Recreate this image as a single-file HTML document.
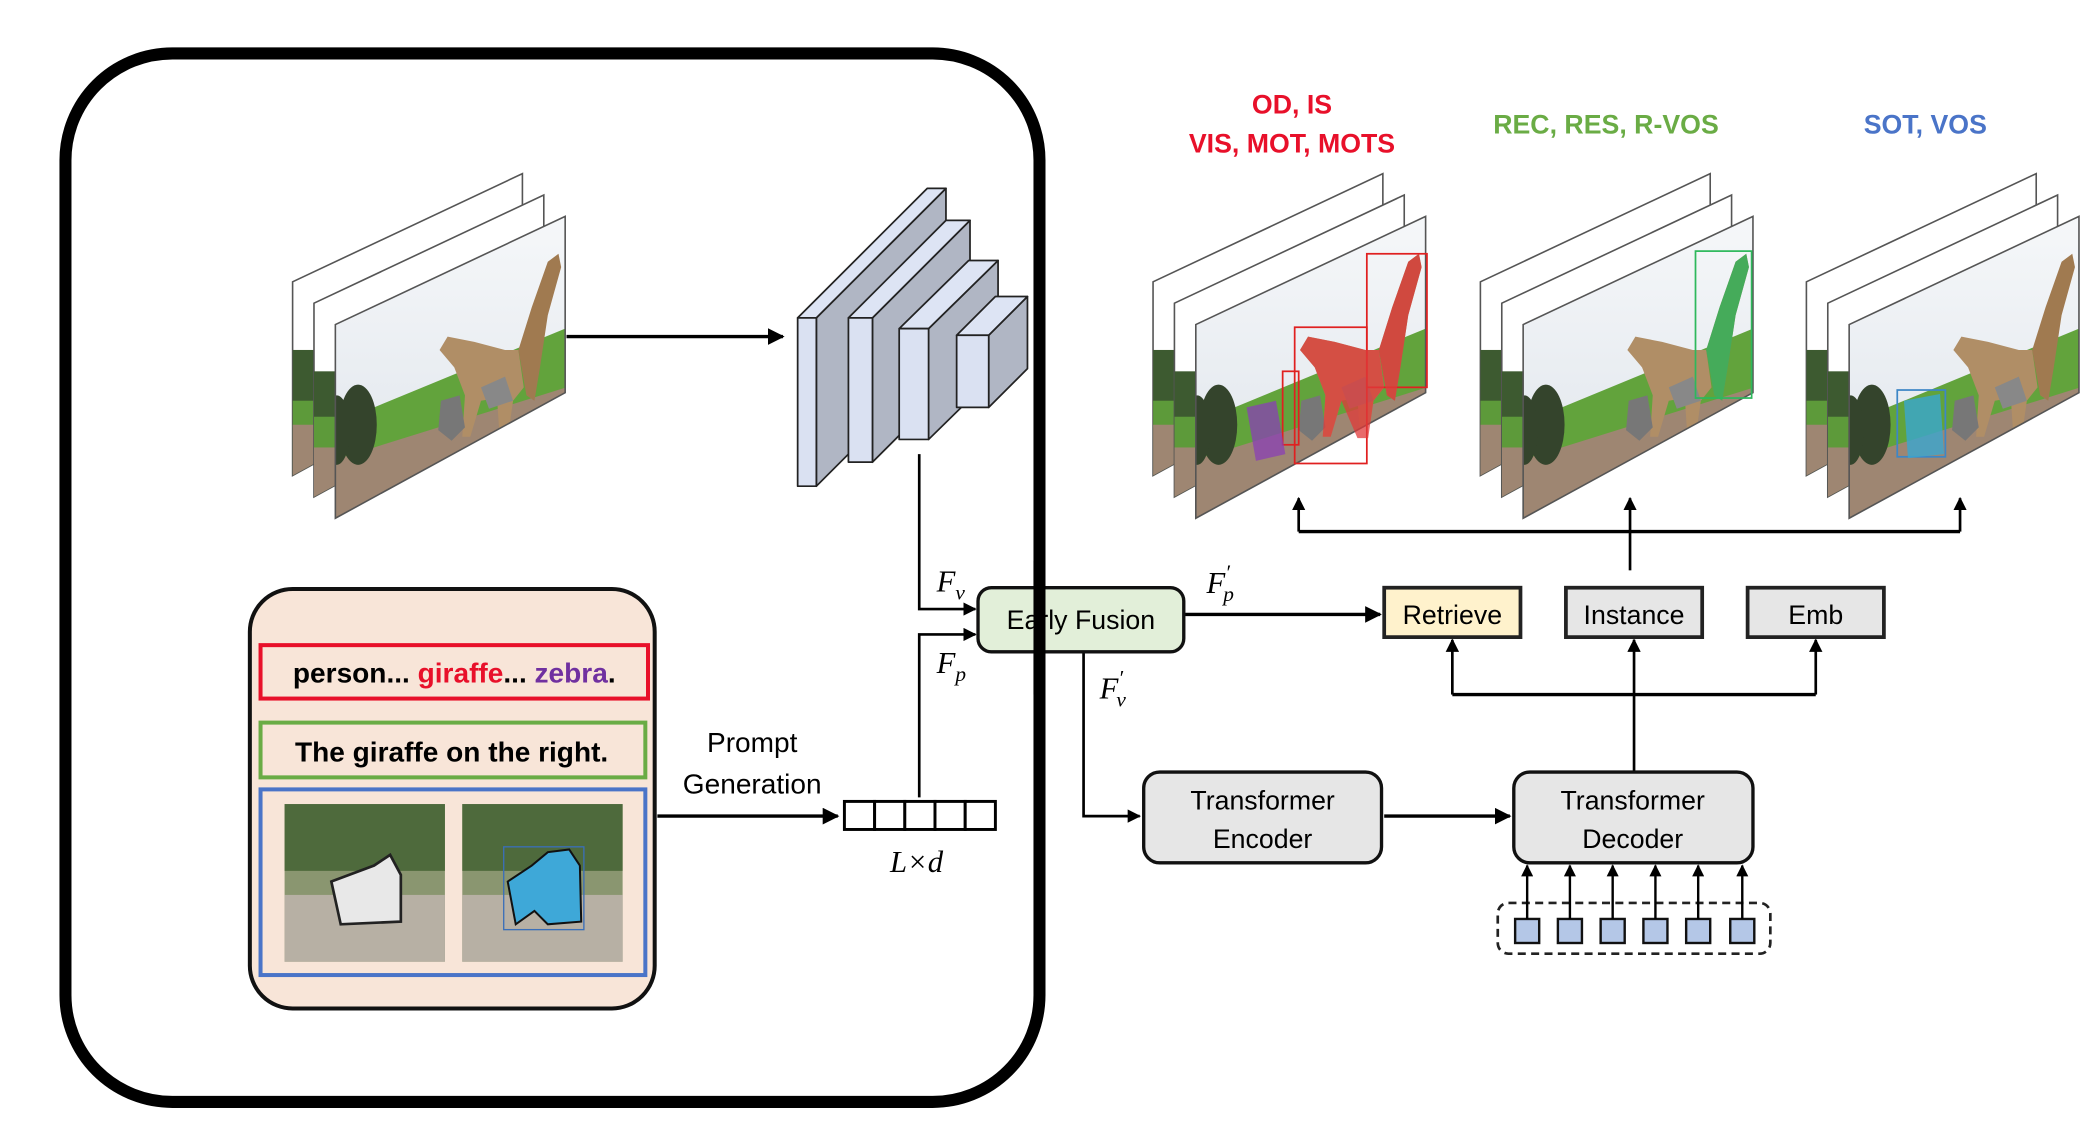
<!DOCTYPE html>
<html><head><meta charset="utf-8"><style>
html,body{margin:0;padding:0;background:#fff}
svg{display:block}
text{font-family:"Liberation Sans",sans-serif}
.m{font-family:"Liberation Serif",serif;font-style:italic}
</style></head><body>
<svg width="2095" height="1134" viewBox="0 0 1568 849" preserveAspectRatio="none" xmlns="http://www.w3.org/2000/svg">
<defs>
<marker id="a" viewBox="0 0 10 10" refX="9" refY="5" markerWidth="5" markerHeight="5" orient="auto"><path d="M0,0L10,5L0,10z" fill="#000"/></marker>
<clipPath id="cf"><polygon points="251,243 423,162 423,294 251,388"/></clipPath>
<clipPath id="cm"><polygon points="235,227 407,146 407,278 235,372"/></clipPath>
<clipPath id="cb"><polygon points="219,211 391,130 391,262 219,356"/></clipPath>
<linearGradient id="sky" x1="0" y1="0" x2="0" y2="1"><stop offset="0" stop-color="#fafbfc"/><stop offset="1" stop-color="#dde3ea"/></linearGradient>
<g id="scene">
<rect x="200" y="120" width="240" height="280" fill="url(#sky)"/>
<polygon points="200,338 440,239 440,420 200,420" fill="#62a33c"/>
<polygon points="200,360 440,285 440,420 200,420" fill="#9e8672"/>
<ellipse cx="268" cy="318" rx="14" ry="30" fill="#34442c"/>
<ellipse cx="252" cy="322" rx="10" ry="26" fill="#34442c"/>
<path d="M329,262 L335,252 L355,256 L378,262 L388,262 L392,290 L384,300 L380,328 L374,328 L372,298 L360,300 L352,327 L346,327 L348,296 L340,275 Z" fill="#b08e66"/>
<path d="M388,262 L398,230 L410,196 L418,190 L420,200 L410,236 L404,276 L400,300 L394,296 Z" fill="#a07a50"/>
<path d="M330,300 L344,296 L348,320 L338,330 L328,322 Z" fill="#777"/>
<path d="M360,290 L378,282 L384,300 L366,306 Z" fill="#888"/>
</g>
</defs>

<!-- big rounded frame -->
<rect x="49" y="40" width="729" height="785" rx="80" fill="none" stroke="#000" stroke-width="9"/>

<!-- stacks -->
<g id="stack">
<polygon points="219,211 391,130 391,262 219,356" fill="#fff" stroke="#555" stroke-width="1.2"/>
<g clip-path="url(#cb)"><rect x="219" y="262" width="30" height="100" fill="#3d5a30"/><rect x="219" y="300" width="30" height="20" fill="#5d9a3a"/><rect x="219" y="318" width="30" height="50" fill="#9e8672"/></g>
<polygon points="235,227 407,146 407,278 235,372" fill="#fff" stroke="#555" stroke-width="1.2"/>
<g clip-path="url(#cm)"><rect x="235" y="278" width="30" height="100" fill="#3d5a30"/><rect x="235" y="312" width="30" height="25" fill="#5d9a3a"/><rect x="235" y="335" width="30" height="40" fill="#9e8672"/></g>
<polygon points="251,243 423,162 423,294 251,388" fill="#fff"/>
<g clip-path="url(#cf)"><use href="#scene"/></g>
<polygon points="251,243 423,162 423,294 251,388" fill="none" stroke="#555" stroke-width="1.2"/>
</g>
<use href="#stack" transform="translate(644,0)"/>
<use href="#stack" transform="translate(889,0)"/>
<use href="#stack" transform="translate(1133,0)"/>
<!-- overlays -->
<g fill="none" stroke-width="1.3">
<rect x="969" y="245" width="54" height="102" stroke="#e02020"/>
<rect x="1023" y="190" width="45" height="100" stroke="#e02020"/>
<rect x="960" y="278" width="12" height="55" stroke="#e02020"/>
<path d="M973,262 L979,252 L999,256 L1022,262 L1032,262 L1036,290 L1028,300 L1024,328 L1016,328 L1004,300 L996,327 L990,327 L992,296 L984,275 Z" fill="#e03a3a" opacity="0.75"/>
<path d="M1032,262 L1042,230 L1054,196 L1062,190 L1064,200 L1054,236 L1048,276 L1044,300 L1038,296 Z" fill="#e03a3a" opacity="0.75"/>
<path d="M933,305 L955,300 L962,340 L940,345 Z" fill="#8a3fb5" opacity="0.75"/>
<rect x="1269" y="188" width="42" height="110" stroke="#2eb85c"/>
<path d="M1277,262 L1287,230 L1299,196 L1307,190 L1309,200 L1299,236 L1293,276 L1289,300 L1283,296 Z" fill="#2eb85c" opacity="0.8"/>
<rect x="1420" y="292" width="36" height="50" stroke="#3d86c6"/>
<path d="M1425,300 L1452,295 L1455,340 L1428,343 Z" fill="#3aa6d0" opacity="0.8"/>
</g>

<!-- titles -->
<g font-weight="bold" font-size="20" text-anchor="middle">
<text x="967" y="85" fill="#e8102a">OD, IS</text>
<text x="967" y="114" fill="#e8102a">VIS, MOT, MOTS</text>
<text x="1202" y="100" fill="#6aac45">REC, RES, R-VOS</text>
<text x="1441" y="100" fill="#4a74c8">SOT, VOS</text>
</g>

<!-- input arrow -->
<line x1="424" y1="252" x2="586" y2="252" stroke="#000" stroke-width="2.5" marker-end="url(#a)"/>

<!-- CNN blocks -->
<g stroke="#222" stroke-width="1.3" stroke-linejoin="round">
<polygon points="611,238 708,141 708,267 611,364" fill="#b0b6c4"/>
<polygon points="597,238 694,141 708,141 611,238" fill="#dde4f4"/>
<rect x="597" y="238" width="14" height="126" fill="#dae1f2"/>
<polygon points="653,238 726,165 726,273 653,346" fill="#b0b6c4"/>
<polygon points="635,238 708,165 726,165 653,238" fill="#dde4f4"/>
<rect x="635" y="238" width="18" height="108" fill="#dae1f2"/>
<polygon points="695,246 747,195 747,278 695,329" fill="#b0b6c4"/>
<polygon points="673,246 725,195 747,195 695,246" fill="#dde4f4"/>
<rect x="673" y="246" width="22" height="83" fill="#dae1f2"/>
<polygon points="740,251 769,222 769,276 740,305" fill="#b0b6c4"/>
<polygon points="716,251 745,222 769,222 740,251" fill="#dde4f4"/>
<rect x="716" y="251" width="24" height="54" fill="#dae1f2"/>
</g>

<!-- prompt panel -->
<rect x="187" y="441" width="303" height="314" rx="32" fill="#f8e5d8" stroke="#111" stroke-width="3"/>
<rect x="195" y="483" width="290" height="40" fill="none" stroke="#e8102a" stroke-width="3"/>
<text x="340" y="511" text-anchor="middle" font-size="21" font-weight="bold"><tspan>person... </tspan><tspan fill="#e8102a">giraffe</tspan><tspan>... </tspan><tspan fill="#7030a0">zebra</tspan><tspan>.</tspan></text>
<rect x="195" y="541" width="288" height="41" fill="none" stroke="#6aac45" stroke-width="3"/>
<text x="338" y="570" text-anchor="middle" font-size="21" font-weight="bold">The giraffe on the right.</text>
<rect x="195" y="591" width="288" height="139" fill="none" stroke="#4a74c8" stroke-width="3"/>
<rect x="213" y="602" width="120" height="118" fill="#8a9670"/>
<rect x="213" y="602" width="120" height="50" fill="#4e6a3c"/>
<rect x="213" y="670" width="120" height="50" fill="#b7b0a4"/>
<path d="M248,660 L280,648 L292,640 L300,655 L300,690 L255,692 Z" fill="#e8e8e8" stroke="#222" stroke-width="2"/>
<rect x="346" y="602" width="120" height="118" fill="#8a9670"/>
<rect x="346" y="602" width="120" height="50" fill="#4e6a3c"/>
<rect x="346" y="670" width="120" height="50" fill="#b7b0a4"/>
<path d="M380,660 L398,648 L410,638 L426,636 L434,648 L435,690 L410,692 L400,682 L386,692 Z" fill="#3ea8d8" stroke="#111" stroke-width="1.5"/>
<rect x="377" y="634" width="60" height="62" fill="none" stroke="#3b6fb8" stroke-width="1"/>

<text x="563" y="563" text-anchor="middle" font-size="21">Prompt</text>
<text x="563" y="594" text-anchor="middle" font-size="21">Generation</text>
<line x1="492" y1="611" x2="627" y2="611" stroke="#000" stroke-width="2.5" marker-end="url(#a)"/>
<g fill="#fff" stroke="#000" stroke-width="2.2">
<rect x="632" y="600" width="22.6" height="21"/><rect x="654.6" y="600" width="22.6" height="21"/><rect x="677.2" y="600" width="22.6" height="21"/><rect x="699.8" y="600" width="22.6" height="21"/><rect x="722.4" y="600" width="22.6" height="21"/>
</g>
<text x="686" y="653" text-anchor="middle" font-size="23" class="m">L×d</text>

<!-- connectors -->
<g fill="none" stroke="#000" stroke-width="2">
<polyline points="688,340 688,456 730,456" marker-end="url(#a)"/>
<polyline points="688,597 688,475 730,475" marker-end="url(#a)"/>
<polyline points="811,488 811,611 853,611" marker-end="url(#a)"/>
<line x1="887" y1="460" x2="1033" y2="460" stroke-width="2.5" marker-end="url(#a)"/>
<line x1="1036" y1="611" x2="1130" y2="611" stroke-width="2.5" marker-end="url(#a)"/>
<line x1="1220" y1="427" x2="1220" y2="398"/>
<polyline points="972,398 1467,398" stroke-width="2.5"/>
<line x1="972" y1="398" x2="972" y2="373" marker-end="url(#a)"/>
<line x1="1220" y1="398" x2="1220" y2="373" marker-end="url(#a)"/>
<line x1="1467" y1="398" x2="1467" y2="373" marker-end="url(#a)"/>
<polyline points="1087,520 1359,520" stroke-width="2.5"/>
<line x1="1087" y1="520" x2="1087" y2="479" marker-end="url(#a)"/>
<line x1="1359" y1="520" x2="1359" y2="479" marker-end="url(#a)"/>
<line x1="1223" y1="578" x2="1223" y2="479" marker-end="url(#a)"/>
</g>
<text x="701" y="443" font-size="23" class="m">F<tspan font-size="16" dy="6">v</tspan></text>
<text x="701" y="504" font-size="23" class="m">F<tspan font-size="16" dy="6">p</tspan></text>
<text x="903" y="444" font-size="23" class="m">F<tspan font-size="16" dy="-10">′</tspan><tspan font-size="16" dx="-5" dy="16">p</tspan></text>
<text x="823" y="523" font-size="23" class="m">F<tspan font-size="16" dy="-10">′</tspan><tspan font-size="16" dx="-5" dy="16">v</tspan></text>

<!-- boxes -->
<rect x="732" y="440" width="154" height="48" rx="10" fill="#e2efd9" stroke="#111" stroke-width="2.5"/>
<text x="809" y="471" text-anchor="middle" font-size="20">Early Fusion</text>
<rect x="1036" y="440" width="102" height="37" fill="#fff2cc" stroke="#222" stroke-width="2.8"/>
<text x="1087" y="467" text-anchor="middle" font-size="20">Retrieve</text>
<rect x="1172" y="440" width="102" height="37" fill="#e6e6e6" stroke="#222" stroke-width="2.8"/>
<text x="1223" y="467" text-anchor="middle" font-size="20">Instance</text>
<rect x="1308" y="440" width="102" height="37" fill="#e6e6e6" stroke="#222" stroke-width="2.8"/>
<text x="1359" y="467" text-anchor="middle" font-size="20">Emb</text>
<rect x="856" y="578" width="178" height="68" rx="12" fill="#e6e6e6" stroke="#111" stroke-width="2.5"/>
<text x="945" y="606" text-anchor="middle" font-size="20">Transformer</text>
<text x="945" y="635" text-anchor="middle" font-size="20">Encoder</text>
<rect x="1133" y="578" width="179" height="68" rx="12" fill="#e6e6e6" stroke="#111" stroke-width="2.5"/>
<text x="1222" y="606" text-anchor="middle" font-size="20">Transformer</text>
<text x="1222" y="635" text-anchor="middle" font-size="20">Decoder</text>

<!-- queries -->
<rect x="1121" y="676" width="204" height="38" rx="8" fill="none" stroke="#222" stroke-width="2" stroke-dasharray="6,4"/>
<g fill="#b4c7e7" stroke="#111" stroke-width="1.8">
<rect x="1134" y="688" width="18" height="18"/><rect x="1166" y="688" width="18" height="18"/><rect x="1198" y="688" width="18" height="18"/><rect x="1230" y="688" width="18" height="18"/><rect x="1262" y="688" width="18" height="18"/><rect x="1295" y="688" width="18" height="18"/>
</g>
<g stroke="#000" stroke-width="1.8">
<line x1="1143" y1="688" x2="1143" y2="648" marker-end="url(#a)"/><line x1="1175" y1="688" x2="1175" y2="648" marker-end="url(#a)"/><line x1="1207" y1="688" x2="1207" y2="648" marker-end="url(#a)"/><line x1="1239" y1="688" x2="1239" y2="648" marker-end="url(#a)"/><line x1="1271" y1="688" x2="1271" y2="648" marker-end="url(#a)"/><line x1="1304" y1="688" x2="1304" y2="648" marker-end="url(#a)"/>
</g>

<!-- frame line over Early Fusion -->
<line x1="778" y1="420" x2="778" y2="520" stroke="#000" stroke-width="9"/>
</svg>
</body></html>
